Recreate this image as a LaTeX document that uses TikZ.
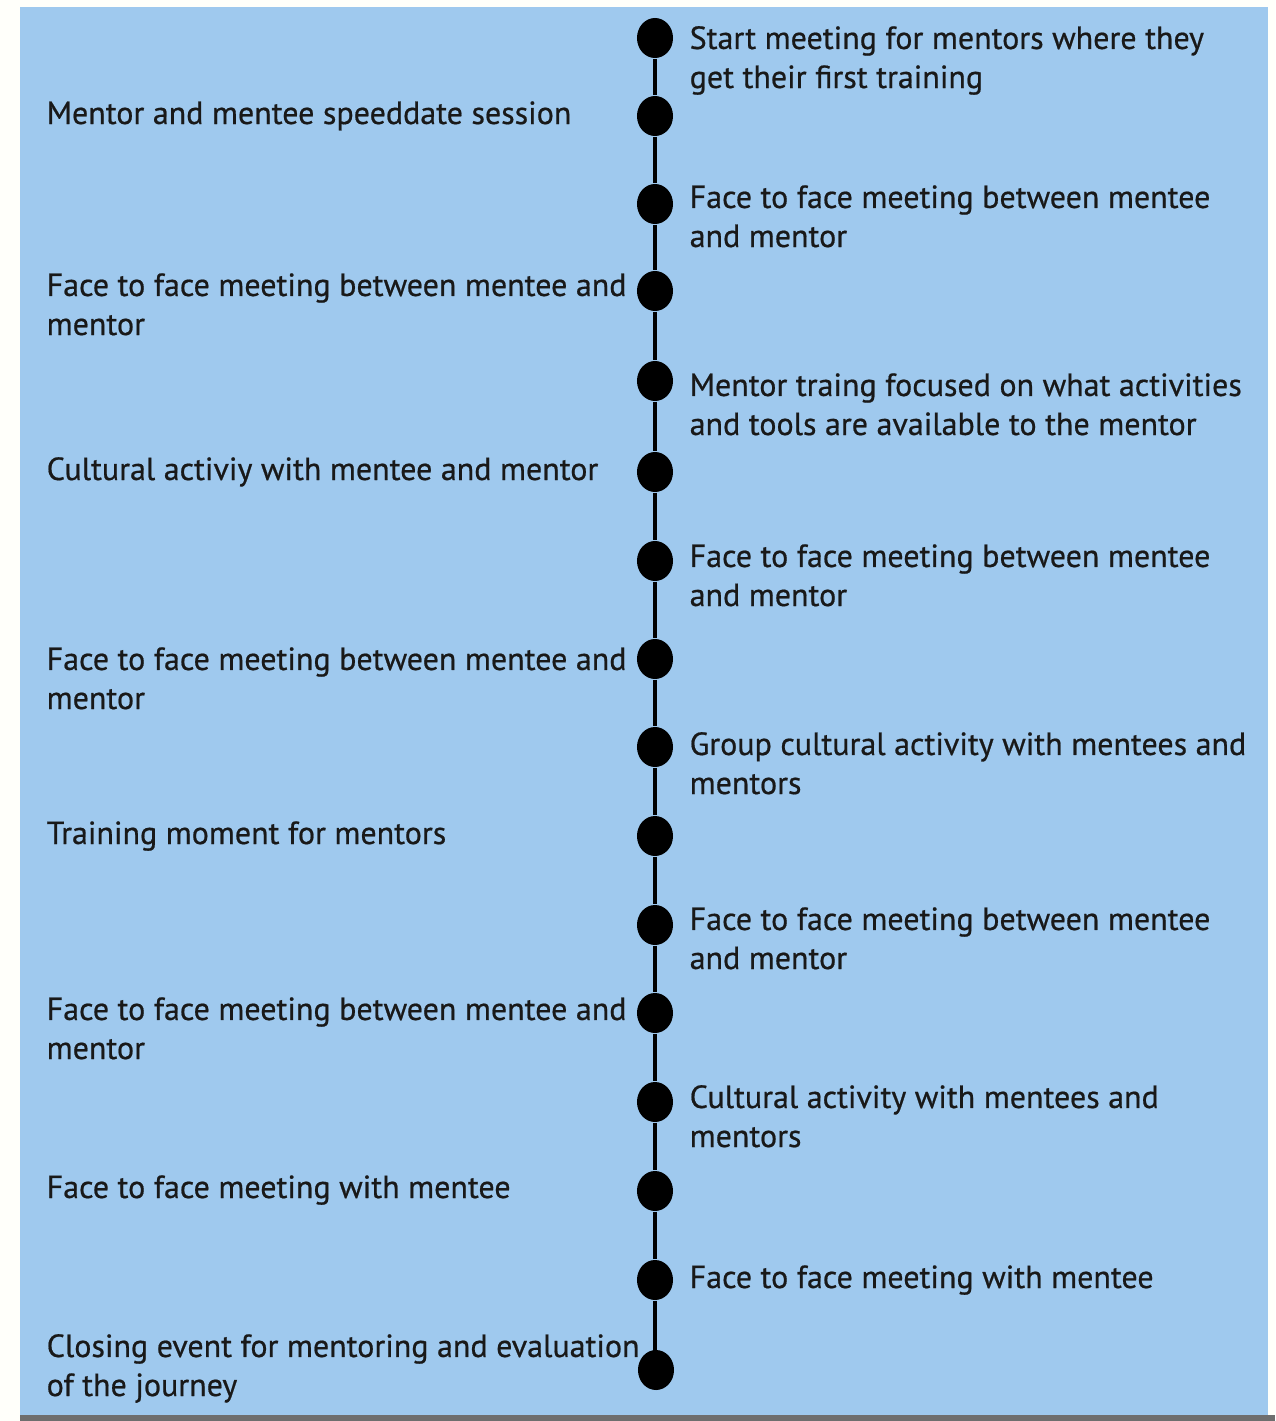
\documentclass[tikz,border=0pt]{standalone}
\usepackage{fontspec}
\setmainfont{PT Sans}[FakeBold=0.6]
\usetikzlibrary{shapes.geometric}
\definecolor{skyfill}{HTML}{9FC9EE}
\definecolor{barline}{HTML}{6E6E6E}
\tikzset{
  dot/.style={ellipse, fill=black, inner sep=0pt, minimum width=0.36cm, minimum height=0.40cm},
  stamp/.style={inner sep=0pt, align=left, anchor=base west, text=black!90, font=\fontsize{9.1}{11.1}\selectfont},
}
\begin{document}
\begin{tikzpicture}[x=0.01cm, y=-0.01cm]
  % page and panel
  \fill[white!98!yellow] (0,0) rectangle (1275,1421);
  \useasboundingbox (0,0) rectangle (1275,1421);
  \fill[skyfill] (20,7) rectangle (1268,1415);
  \fill[barline] (20,1415) rectangle (1275,1421);
  % dots along the line
  \node[dot] (d1) at (655,38) {};
  \node[dot] (d2) at (655,116) {};
  \node[dot] (d3) at (655,204) {};
  \node[dot] (d4) at (655,291) {};
  \node[dot] (d5) at (655,381) {};
  \node[dot] (d6) at (655,472) {};
  \node[dot] (d7) at (655,561) {};
  \node[dot] (d8) at (655,659) {};
  \node[dot] (d9) at (655,747) {};
  \node[dot] (d10) at (655,836) {};
  \node[dot] (d11) at (655,925) {};
  \node[dot] (d12) at (655,1013) {};
  \node[dot] (d13) at (655,1102) {};
  \node[dot] (d14) at (655,1191) {};
  \node[dot] (d15) at (655,1280) {};
  \node[dot] (d16) at (656,1370) {};
  % spine
  \draw[line width=0.04cm] (d1) -- (d2) -- (d3) -- (d4) -- (d5) -- (d6) -- (d7) -- (d8)
    -- (d9) -- (d10) -- (d11) -- (d12) -- (d13) -- (d14) -- (d15) -- (d15 |- d16);
  % right side (base = last line)
  \node[stamp] (r1) at (689,88) {Start meeting for mentors where they\\get their first training};
  \node[stamp] (r3) at (689,247) {Face to face meeting between mentee\\and mentor};
  \node[stamp] (r5) at (689,435) {Mentor traing focused on what activities\\and tools are available to the mentor};
  \node[stamp] (r7) at (689,606) {Face to face meeting between mentee\\and mentor};
  \node[stamp] (r9) at (689,794) {Group cultural activity with mentees and\\mentors};
  \node[stamp] (r11) at (689,969) {Face to face meeting between mentee\\and mentor};
  \node[stamp] (r13) at (689,1147) {Cultural activity with mentees and\\mentors};
  \node[stamp] (r15) at (689,1288) {Face to face meeting with mentee};
  % left side
  \node[stamp] (l2) at (46,124) {Mentor and mentee speeddate session};
  \node[stamp] (l4) at (46,335) {Face to face meeting between mentee and\\mentor};
  \node[stamp] (l6) at (46,480) {Cultural activiy with mentee and mentor};
  \node[stamp] (l8) at (46,709) {Face to face meeting between mentee and\\mentor};
  \node[stamp] (l10) at (46,844) {Training moment for mentors};
  \node[stamp] (l12) at (46,1059) {Face to face meeting between mentee and\\mentor};
  \node[stamp] (l14) at (46,1198) {Face to face meeting with mentee};
  \node[stamp] (l16) at (46,1396) {Closing event for mentoring and evaluation\\of the journey};
\end{tikzpicture}
\end{document}
